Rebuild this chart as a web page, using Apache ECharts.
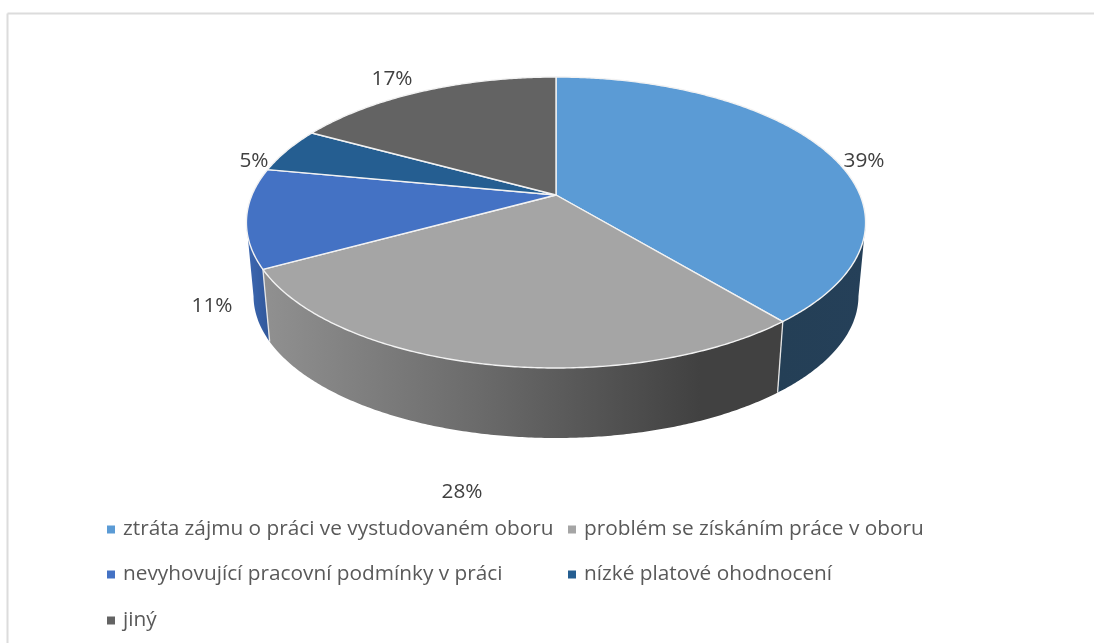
<!DOCTYPE html>
<html>
<head>
<meta charset="utf-8">
<style>html,body{margin:0;padding:0;background:#fff}#c{width:1094px;height:643px}</style>
<script src="https://cdn.jsdelivr.net/npm/echarts@6/dist/echarts.min.js"></script>
</head>
<body>
<div id="c"></div>
<script>
const categories = ['ztráta zájmu o práci ve vystudovaném oboru','problém se získáním práce v oboru','nevyhovující pracovní podmínky v práci','nízké platové ohodnocení','jiný'];
const values = [39, 28, 11, 5, 17];
const labels = ['39%', '28%', '11%', '5%', '17%'];

const topColors = ['#5b9bd5', '#a5a5a5', '#4472c4', '#255e91', '#636363'];
const labelAnchors = [[864,161],[462,492],[212,306],[254,161],[392,79]];
const legendAnchors = [[107,519],[568,519],[107,564],[568,564],[107,610]];

const total = values.reduce((a, b) => a + b, 0);
const CX = 556, CY = 195, R = 304, S = 140.3, K = 0.189;
const BOTTOM_SCALE = 0.977, BOTTOM_Y = 269;

function project(thetaDeg, lower) {
  const t = thetaDeg * Math.PI / 180;
  const u = Math.sin(t), v = -Math.cos(t), d = 1 - K * v;
  const x = R * u / d, y = S * v / d;
  if (lower) return [CX + BOTTOM_SCALE * x, BOTTOM_Y + BOTTOM_SCALE * y];
  return [CX + x, CY + y];
}
function arc(a0, a1, lower) {
  const n = Math.max(2, Math.ceil(Math.abs(a1 - a0) * 2)), pts = [];
  for (let i = 0; i <= n; i++) pts.push(project(a0 + (a1 - a0) * i / n, lower));
  return pts;
}
function sliceStart(i) {
  let s = 0;
  for (let j = 0; j < i; j++) s += values[j];
  return s / total * 360;
}

const wallFill = [
  new echarts.graphic.LinearGradient(780, 0, 865, 0, [{offset:0,color:'#243f56'},{offset:1,color:'#254059'}], true),
  new echarts.graphic.LinearGradient(266, 0, 700, 0, [{offset:0,color:'#909090'},{offset:0.5,color:'#6a6a6a'},{offset:1,color:'#414141'}], true),
  new echarts.graphic.LinearGradient(248, 0, 272, 0, [{offset:0,color:'#3c67b0'},{offset:1,color:'#2f5597'}], true)
];

function renderWalls(params, api) {
  const i = api.value(1), v = api.value(0);
  const a0 = sliceStart(i), a1 = a0 + v / total * 360;
  const lo = Math.max(a0, 101), hi = Math.min(a1, 259);
  if (hi <= lo) return { type: 'group', children: [] };
  const pts = arc(lo, hi, false).concat(arc(hi, lo, true));
  const children = [{ type: 'polygon', shape: { points: pts }, style: { fill: wallFill[i] || topColors[i] } }];
  if (a0 >= lo && a0 <= hi) {
    const p = project(a0, false), q = project(a0, true);
    children.push({ type: 'line', z2: 5, shape: { x1: p[0], y1: p[1], x2: q[0], y2: q[1] }, style: { stroke: '#e6e6e6', lineWidth: 1.3 } });
  }
  return { type: 'group', children };
}
function renderTop(i) {
  return function (params, api) {
    const v = api.value(0);
    const a0 = sliceStart(i), a1 = a0 + v / total * 360;
    const pts = [[CX, CY]].concat(arc(a0, a1, false));
    return { type: 'group', children: [
      { type: 'polygon', shape: { points: pts }, style: { fill: topColors[i], stroke: '#f2f2f2', lineWidth: 1.4, lineJoin: 'round' } },
      { type: 'text', z2: 10, style: { x: labelAnchors[i][0], y: labelAnchors[i][1], text: labels[i], fill: '#404040', font: '20.8px "Open Sans"', align: 'center', verticalAlign: 'middle' } }
    ] };
  };
}

const series = [{
  type: 'custom', name: 'walls', coordinateSystem: 'none', silent: true, z: 1,
  data: values.map((v, i) => [v, i]), renderItem: renderWalls, animation: false
}].concat(categories.map((name, i) => ({
  type: 'custom', name, coordinateSystem: 'none', silent: true, z: 2,
  itemStyle: { color: topColors[i] }, data: [[values[i]]], renderItem: renderTop(i), animation: false
})));

const chart = echarts.init(document.getElementById('c'), null, { renderer: 'canvas' });
chart.setOption({
  animation: false,
  backgroundColor: '#fff',
  graphic: [
    { type: 'line', shape: { x1: 7.5, y1: 13.5, x2: 1094, y2: 13.5 }, style: { stroke: '#dcdcdc', lineWidth: 2 } },
    { type: 'line', shape: { x1: 7.5, y1: 13.5, x2: 7.5, y2: 643 }, style: { stroke: '#dcdcdc', lineWidth: 2 } }
  ],
  legend: categories.map((name, i) => ({
    data: [name], left: legendAnchors[i][0], top: legendAnchors[i][1], padding: 0,
    icon: 'rect', itemWidth: 8, itemHeight: 8, itemGap: 0, selectedMode: false,
    textStyle: { color: '#595959', fontFamily: '"Open Sans"', fontSize: 20.8, padding: [0, 0, 0, 3] }
  })),
  series
});
</script>
</body>
</html>
